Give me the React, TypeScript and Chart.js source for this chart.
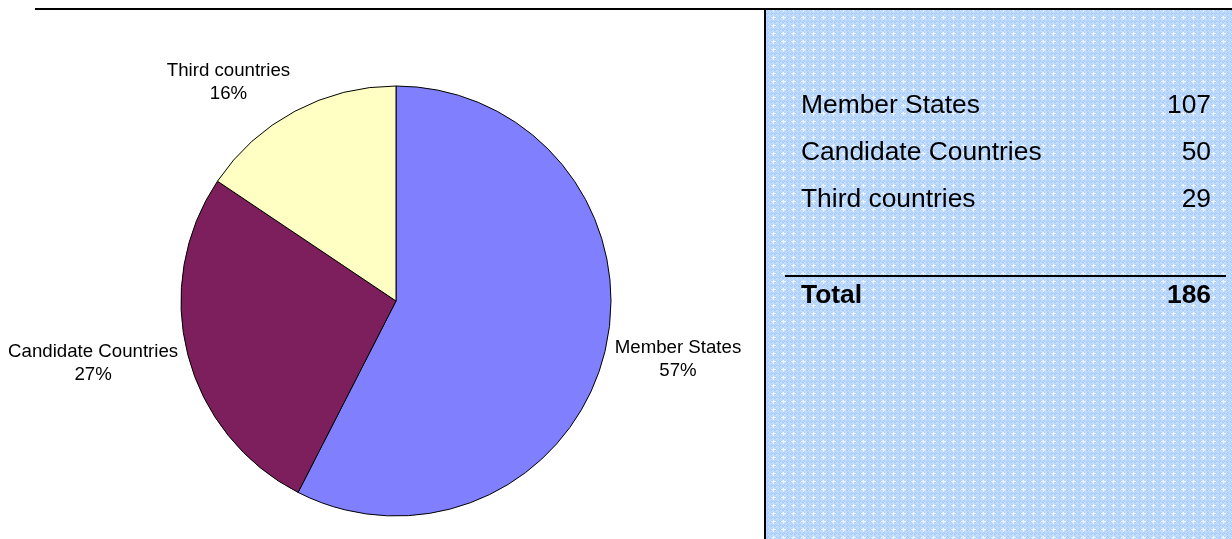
import React, { useEffect, useRef } from "react";
import { Chart, registerables } from "chart.js";

Chart.register(...registerables);

const categories = ["Member States", "Candidate Countries", "Third countries"];
const values = [107, 50, 29];
const percentLabels = ["57%", "27%", "16%"];
const totalLabel = "Total";
const totalValue = 186;
const sliceColors = ["#8080FF", "#7D1F5D", "#FFFFC4"];

const W = 1232;
const H = 539;
const FONT = "'Liberation Sans', Arial, Helvetica, sans-serif";

function makePattern(ctx: CanvasRenderingContext2D) {
  const tile = document.createElement("canvas");
  tile.width = 20;
  tile.height = 16;
  const t = tile.getContext("2d")!;
  const shades = ["#B0D2FF", "#BEDAFF", "#CCE2FF", "#A8CCFA", "#EEF6FF"];
  for (let y = 0; y < tile.height; y++) {
    for (let x = 0; x < tile.width; x++) {
      const h = ((x * 73856093) ^ (y * 19349663) ^ (x * y * 83492791)) >>> 0;
      let idx = h % 4;
      if ((x % 10 === 3 && y % 8 < 4) || (y % 8 === 1 && x % 10 >= 1 && x % 10 <= 5)) idx = 4;
      t.fillStyle = shades[idx];
      t.fillRect(x, y, 1, 1);
    }
  }
  return ctx.createPattern(tile, "repeat");
}

const decorPlugin = {
  id: "decor",
  beforeDraw(chart: any) {
    const ctx: CanvasRenderingContext2D = chart.ctx;
    ctx.save();
    ctx.fillStyle = "#FFFFFF";
    ctx.fillRect(0, 0, W, H);
    const pat = makePattern(ctx);
    ctx.fillStyle = pat || "#C4DEFF";
    ctx.fillRect(766, 10, W - 766, H - 10);
    ctx.fillStyle = "#000000";
    ctx.fillRect(35, 8, W - 35, 2);
    ctx.fillRect(764, 8, 2, H - 8);
    ctx.restore();
  },
  afterDraw(chart: any) {
    const ctx: CanvasRenderingContext2D = chart.ctx;
    ctx.save();
    const meta = chart.getDatasetMeta(0);
    ctx.fillStyle = "#000000";
    ctx.font = `18.67px ${FONT}`;
    const lineH = 23;
    meta.data.forEach((arc: any, i: number) => {
      const mid = (arc.startAngle + arc.endAngle) / 2;
      const r = arc.outerRadius + 10;
      const px = arc.x + Math.cos(mid) * r;
      const py = arc.y + Math.sin(mid) * r;
      const l1 = categories[i];
      const l2 = percentLabels[i];
      const w = Math.max(ctx.measureText(l1).width, ctx.measureText(l2).width);
      const h = lineH * 2;
      const kx = Math.max(-1, Math.min(1, 3 * Math.cos(mid)));
      const ky = Math.sin(mid);
      const cx = px + kx * w / 2;
      const cy = py + ky * h / 2;
      ctx.textAlign = "center";
      ctx.textBaseline = "middle";
      ctx.fillText(l1, cx, cy - lineH / 2);
      ctx.fillText(l2, cx, cy + lineH / 2);
    });
    ctx.font = `26.4px ${FONT}`;
    ctx.textBaseline = "alphabetic";
    const rowBase = [113, 160, 207];
    categories.forEach((c, i) => {
      ctx.textAlign = "left";
      ctx.fillText(c, 801, rowBase[i]);
      ctx.textAlign = "right";
      ctx.fillText(String(values[i]), 1211, rowBase[i]);
    });
    ctx.fillRect(785, 275, 441, 2);
    ctx.font = `bold 26.4px ${FONT}`;
    ctx.textAlign = "left";
    ctx.fillText(totalLabel, 801, 303);
    ctx.textAlign = "right";
    ctx.fillText(String(totalValue), 1211, 303);
    ctx.restore();
  },
};

export default function App() {
  const ref = useRef<HTMLCanvasElement>(null);
  useEffect(() => {
    if (!ref.current) return;
    const chart = new Chart(ref.current, {
      type: "pie",
      data: {
        labels: categories,
        datasets: [
          {
            data: values,
            backgroundColor: sliceColors,
            borderColor: "#000000",
            borderWidth: 1,
            radius: 215,
            hoverOffset: 0,
          } as any,
        ],
      },
      options: {
        animation: false,
        responsive: false,
        maintainAspectRatio: false,
        layout: { padding: { left: 0, right: 440, top: 63, bottom: 0 } },
        plugins: {
          legend: { display: false },
          tooltip: { enabled: false },
        },
        events: [],
      },
      plugins: [decorPlugin],
    });
    return () => chart.destroy();
  }, []);
  return (
    <div style={{ position: "absolute", left: 0, top: 0, width: W, height: H }}>
      <canvas ref={ref} width={W} height={H} style={{ display: "block", width: W, height: H }} />
    </div>
  );
}
